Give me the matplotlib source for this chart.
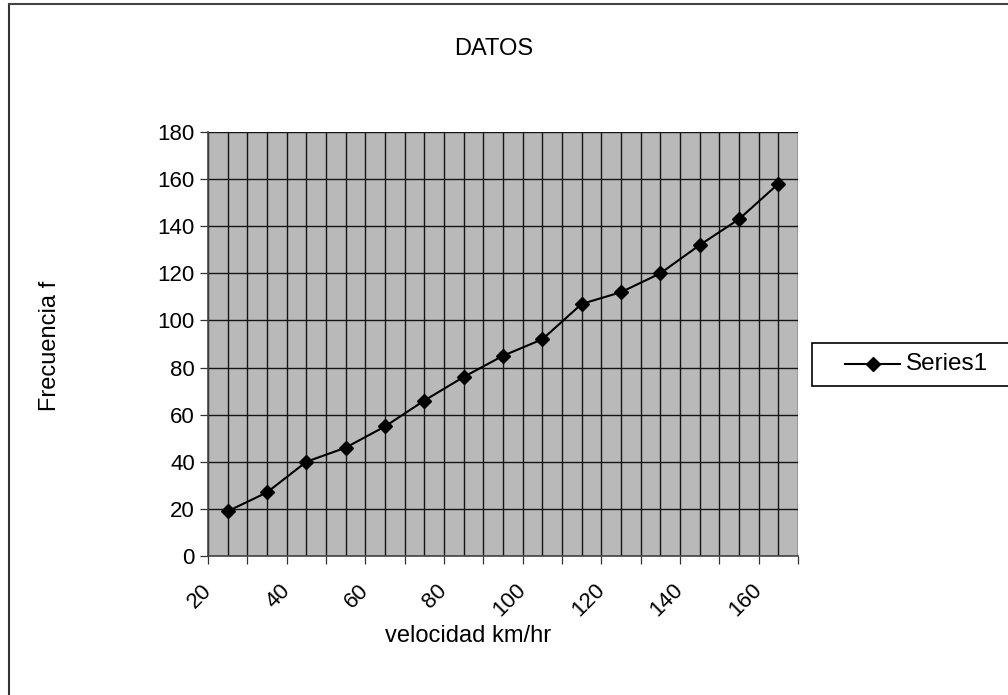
import matplotlib
matplotlib.use("Agg")
import matplotlib.pyplot as plt
from matplotlib.patches import Rectangle
from matplotlib.lines import Line2D
import numpy as np

plt.rcParams['font.family'] = ['Liberation Sans', 'DejaVu Sans']

velocidad = [25, 35, 45, 55, 65, 75, 85, 95, 105, 115, 125, 135, 145, 155, 165]
frecuencia = [19, 27, 40, 46, 55, 66, 76, 85, 92, 107, 112, 120, 132, 143, 158]
x_tick_labels = [20, 40, 60, 80, 100, 120, 140, 160]
y_tick_labels = [0, 20, 40, 60, 80, 100, 120, 140, 160, 180]
title = "DATOS"
x_label = "velocidad km/hr"
y_label = "Frecuencia f"
series_name = "Series1"

W, H = 1008, 695
fig = plt.figure(figsize=(W / 100, H / 100), dpi=100)
fig.patch.set_facecolor("white")

def fx(px):
    return px / W

def fy(py):
    return 1 - py / H

left, right, top, bottom = 208, 798, 132, 556
ax = fig.add_axes([fx(left), fy(bottom), fx(right - left), (bottom - top) / H])
ax.set_facecolor("#b9b9b9")

ax.set_xlim(20, 170)
ax.set_ylim(0, 180)

# gridlines
ax.set_xticks(np.arange(20, 171, 10))
ax.set_xticks(np.arange(25, 170, 10), minor=True)
ax.set_yticks(y_tick_labels)
ax.grid(True, which="both", axis="x", color="#151515", linewidth=1.0)
ax.grid(True, which="major", axis="y", color="#151515", linewidth=1.0)
ax.set_axisbelow(True)

ax.set_xticklabels([str(v) if v in x_tick_labels else "" for v in range(20, 171, 10)],
                   rotation=45, ha="right", va="center", rotation_mode="anchor",
                   fontsize=16)
ax.set_yticklabels([str(v) for v in y_tick_labels], fontsize=16)
ax.tick_params(axis="x", which="major", length=5.5, width=0.9, color="#333333", pad=17)
ax.tick_params(axis="x", which="minor", length=0)
ax.tick_params(axis="y", length=5.5, width=0.9, color="#333333", pad=4)

for s in ["top", "right"]:
    ax.spines[s].set_visible(False)
for s in ["left", "bottom"]:
    ax.spines[s].set_color("#444444")
    ax.spines[s].set_linewidth(1.2)

ax.plot(velocidad, frecuencia, color="black", linewidth=1.5,
        marker="D", markersize=7, markerfacecolor="black",
        markeredgecolor="black", clip_on=False, zorder=3)

fig.text(fx(494), fy(49), title, fontsize=17, ha="center", va="center")
fig.text(fx(468), fy(636), x_label, fontsize=17, ha="center", va="center")
fig.text(fx(50), fy(346), y_label, fontsize=17, ha="center", va="center",
         rotation=90)

# legend box
fig.patches.append(Rectangle((fx(812), fy(386)), fx(1015 - 812), (386 - 343) / H,
                             transform=fig.transFigure, facecolor="white",
                             edgecolor="black", linewidth=1.2))
fig.lines.append(Line2D([fx(845), fx(900)], [fy(364), fy(364)],
                        transform=fig.transFigure, color="black", linewidth=1.5,
                        marker=None))
fig.lines.append(Line2D([fx(872.5)], [fy(364)], transform=fig.transFigure,
                        color="black", marker="D", markersize=7, linestyle="none"))
fig.text(fx(906), fy(364), series_name, fontsize=17.5, ha="left", va="center")

# outer frame (left and top edges)
fig.lines.append(Line2D([fx(9), fx(9)], [fy(4), fy(700)], transform=fig.transFigure,
                        color="#333333", linewidth=1.5))
fig.lines.append(Line2D([fx(9), fx(1010)], [fy(4), fy(4)], transform=fig.transFigure,
                        color="#444444", linewidth=1.5))

fig.savefig("out.png", dpi=100, facecolor="white")
